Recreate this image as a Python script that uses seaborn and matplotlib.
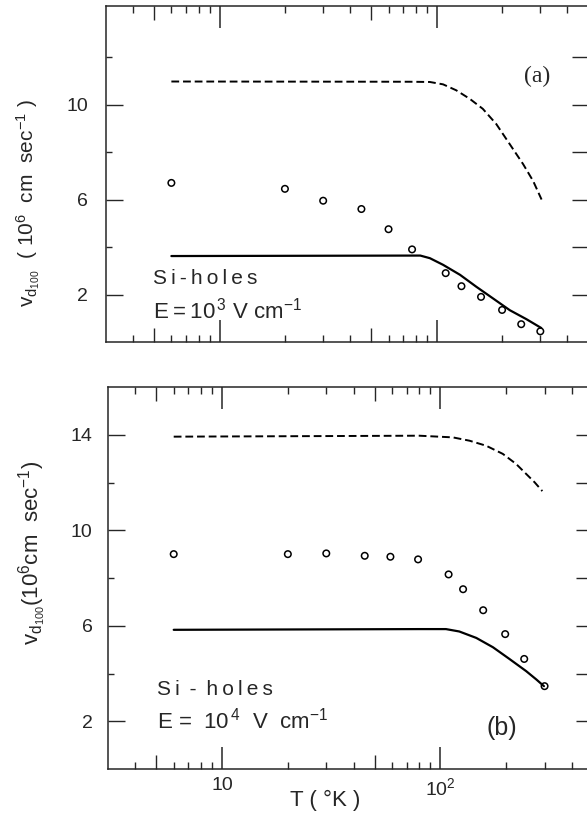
import matplotlib
matplotlib.use("Agg")
import matplotlib.pyplot as plt
from matplotlib.ticker import NullLocator
import seaborn as sns

# panel (a): E = 10^3 V/cm
t_dots_a = [6, 20, 30, 45, 60, 77, 110, 130, 160, 200, 245, 300]
v_dots_a = [6.7, 6.45, 5.95, 5.6, 4.75, 3.9, 2.9, 2.35, 1.9, 1.35, 0.75, 0.45]
t_solid_a = [6, 84, 93, 107, 128, 152, 182, 217, 259, 303]
v_solid_a = [3.62, 3.64, 3.53, 3.25, 2.83, 2.33, 1.83, 1.34, 0.96, 0.59]
t_dash_a = [6, 75, 93, 107, 123, 142, 163, 188, 217, 250, 278, 304]
v_dash_a = [10.97, 10.96, 10.95, 10.85, 10.6, 10.24, 9.82, 9.18, 8.33, 7.49, 6.78, 6.0]

# panel (b): E = 10^4 V/cm
t_dots_b = [6, 20, 30, 45, 59, 79, 109, 127, 157, 198, 242, 300]
v_dots_b = [9.0, 9.0, 9.03, 8.93, 8.89, 8.78, 8.15, 7.53, 6.65, 5.65, 4.61, 3.47]
t_solid_b = [6, 80, 106, 122, 146, 174, 207, 247, 275, 298]
v_solid_b = [5.83, 5.86, 5.86, 5.76, 5.49, 5.1, 4.61, 4.1, 3.75, 3.47]
t_dash_b = [6, 80, 114, 136, 162, 193, 222, 247, 270, 293]
v_dash_b = [13.92, 13.96, 13.89, 13.75, 13.54, 13.2, 12.78, 12.36, 12.01, 11.64]

sns.set_style("ticks")
plt.rcParams["font.family"] = ["Liberation Sans", "DejaVu Sans"]
plt.rcParams["mathtext.fontset"] = "custom"
plt.rcParams["mathtext.rm"] = "Liberation Sans"
plt.rcParams["mathtext.it"] = "Liberation Sans:italic"
plt.rcParams["mathtext.bf"] = "Liberation Sans:bold"

W, H = 587, 825
fig = plt.figure(figsize=(W / 100, H / 100), dpi=100)
ax1 = fig.add_axes([106 / W, 1 - 342 / H, (588.5 - 106) / W, 336 / H])
ax2 = fig.add_axes([108 / W, 1 - 769 / H, (593 - 108) / W, 382 / H])

minor_x = [4, 6, 7, 8, 9, 20, 30, 40, 60, 70, 80, 90, 200, 300, 400]


def draw_panel(ax, td, vd, ts, vs, tdash, vdash, ylim, ymajor, yminor, yright, ypad):
    sns.lineplot(x=tdash, y=vdash, ax=ax, color="black", lw=1.4,
                 linestyle=(0, (4, 2)), sort=False, estimator=None)
    sns.lineplot(x=ts, y=vs, ax=ax, color="black", lw=1.6,
                 sort=False, estimator=None)
    sns.scatterplot(x=td, y=vd, ax=ax, marker="o", s=22,
                    facecolor="none", edgecolor="black", linewidth=1.1)
    ax.set_xscale("log")
    ax.set_xlim(3, 500)
    ax.set_ylim(*ylim)

    # medium ticks at 5, 50, 500 (top and bottom)
    tw = ax.twiny()
    tw.set_xscale("log")
    tw.set_xlim(3, 500)
    tw.set_xticks([5, 50, 500])
    tw.xaxis.set_minor_locator(NullLocator())
    tw.tick_params(axis="x", which="major", direction="in", length=10, width=1,
                   top=True, bottom=True, labeltop=False, labelbottom=False)
    for s in tw.spines.values():
        s.set_visible(False)

    # right side ticks, all the same length
    ty = ax.twinx()
    ty.set_ylim(*ylim)
    ty.set_yticks(yright)
    ty.yaxis.set_minor_locator(NullLocator())
    ty.tick_params(axis="y", direction="in", length=12, width=1,
                   right=True, left=False, labelright=False)
    for s in ty.spines.values():
        s.set_visible(False)

    for s in ax.spines.values():
        s.set_linewidth(1.1)
    ax.set_xticks([10, 100])
    ax.set_xticks(minor_x, minor=True)
    ax.set_yticks(ymajor)
    ax.set_yticks(yminor, minor=True)
    ax.tick_params(axis="x", which="major", direction="in", length=16, width=1.1,
                   top=True, bottom=True, labelsize=14, pad=6)
    ax.tick_params(axis="x", which="minor", direction="in", length=5, width=1,
                   top=True, bottom=True, labelbottom=False)
    ax.tick_params(axis="y", which="major", direction="in", length=12, width=1,
                   left=True, right=False, labelsize=14, pad=ypad)
    ax.tick_params(axis="y", which="minor", direction="in", length=4.5, width=1,
                   left=True, right=False)
    ax.set_xlabel("")
    ax.set_ylabel("")


draw_panel(ax1, t_dots_a, v_dots_a, t_solid_a, v_solid_a, t_dash_a, v_dash_a,
           (0, 14.15), [2, 6, 10], [4, 8, 12], [2, 4, 6, 8, 10, 12], 13)
draw_panel(ax2, t_dots_b, v_dots_b, t_solid_b, v_solid_b, t_dash_b, v_dash_b,
           (0, 16), [2, 6, 10, 14], [4, 8, 12], [2, 4, 6, 8, 10, 12, 14], 11)

ax1.tick_params(axis="x", which="major", labelbottom=False)
ax2.set_xticklabels(["10", r"$10^2$"])

ax1.set_ylabel(r"$\mathrm{v_{d_{100}}}\ \ (\ 10^6\ \ \mathrm{cm}\ \ \mathrm{sec^{-1}}\ )$",
               fontsize=15, va="center", ha="center")
ax1.yaxis.set_label_coords(-0.162, 0.414)
ax2.set_ylabel(r"$\mathrm{v_{d_{100}}}(10^6\mathrm{cm}\ \ \mathrm{sec^{-1}})$",
               fontsize=16, va="center", ha="center")
ax2.yaxis.set_label_coords(-0.155, 0.565)
ax2.set_xlabel("T ( °K )", fontsize=16, va="center")
ax2.xaxis.set_label_coords(0.447, -0.081)

ts = "\u2009"
ax1.text(0.097, 0.1875, ts.join("Si-holes"), transform=ax1.transAxes,
         fontsize=15, va="center", ha="left")
ax1.text(0.097, 0.095, "E" + ts + "=" + ts + r"10$^{\,3}$ V cm$^{-1}$",
         transform=ax1.transAxes, fontsize=16, va="center", ha="left")
ax1.text(0.893, 0.789, "(a)", transform=ax1.transAxes, fontsize=17,
         family="Liberation Serif", va="center", ha="center")

ax2.text(0.101, 0.207, "S" + ts + "i" + ts + " - " + ts + ts.join("holes"),
         transform=ax2.transAxes, fontsize=15, va="center", ha="left")
ax2.text(0.101, 0.128, r"E =  10$^{\,4}$  V  cm$^{-1}$", transform=ax2.transAxes,
         fontsize=16, va="center", ha="left")
ax2.text(0.812, 0.107, "(b)", transform=ax2.transAxes, fontsize=18,
         va="center", ha="center")

fig.savefig("out.png", dpi=100)
